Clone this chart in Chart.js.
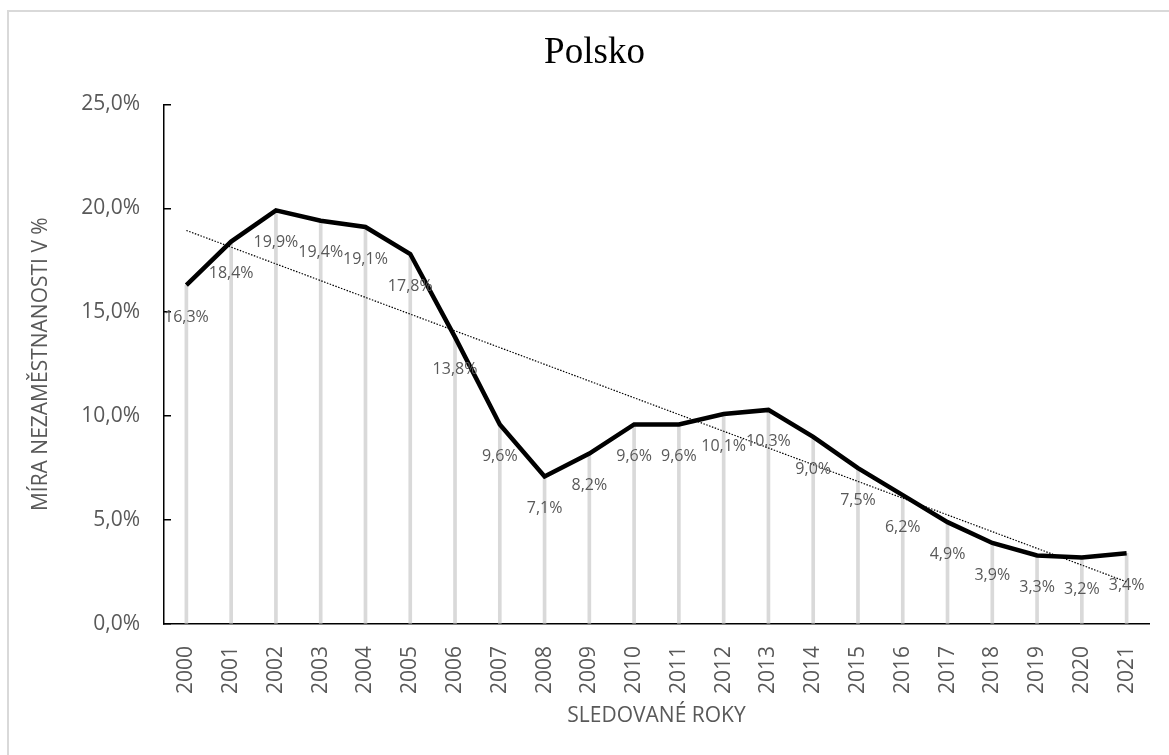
<!DOCTYPE html>
<html>
<head>
<meta charset="utf-8">
<script src="https://cdn.jsdelivr.net/npm/chart.js@4.4.0/dist/chart.umd.min.js"></script>
<style>
    body { margin: 0; background: #fff; }
    #wrap { position: relative; width: 1169px; height: 755px; overflow: hidden; }
    #frame { position: absolute; left: 7px; top: 10px; width: 1300px; height: 900px;
             border-left: 2px solid #d9d9d9; border-top: 2px solid #d9d9d9; }
    canvas { position: absolute; left: 0; top: 0; }
</style>
</head>
<body>
<div id="wrap">
    <div id="frame"></div>
    <canvas id="nezamChart" width="1169" height="755"></canvas>
</div>
<script>
const roky = ['2000', '2001', '2002', '2003', '2004', '2005', '2006', '2007', '2008', '2009', '2010',
    '2011', '2012', '2013', '2014', '2015', '2016', '2017', '2018', '2019', '2020', '2021'];
const miraNezam = [16.3, 18.4, 19.9, 19.4, 19.1, 17.8, 13.8, 9.6, 7.1, 8.2, 9.6,
    9.6, 10.1, 10.3, 9.0, 7.5, 6.2, 4.9, 3.9, 3.3, 3.2, 3.4];
const osaYTicks = [0, 5, 10, 15, 20, 25];

const sedaText = '#595959';
const fmt = v => v.toFixed(1).replace('.', ',') + '%';

// lineární trend (nejmenší čtverce) jako v Excelu
const n = miraNezam.length;
const mx = (n - 1) / 2;
const my = miraNezam.reduce((a, b) => a + b, 0) / n;
let sxy = 0, sxx = 0;
miraNezam.forEach((y, i) => { sxy += (i - mx) * (y - my); sxx += (i - mx) * (i - mx); });
const sklon = sxy / sxx;
const trend = miraNezam.map((_, i) => my + sklon * (i - mx));

// popisky hodnot pod body
const popisky = {
    id: 'popisky',
    afterDatasetsDraw(chart) {
        const meta = chart.getDatasetMeta(0);
        const ctx = chart.ctx;
        ctx.save();
        ctx.font = '16px "Open Sans"';
        ctx.fillStyle = sedaText;
        ctx.textAlign = 'center';
        ctx.textBaseline = 'middle';
        meta.data.forEach((pt, i) => {
            ctx.fillText(fmt(miraNezam[i]), pt.x, pt.y + 32);
        });
        ctx.restore();
    }
};

const ctx = document.getElementById('nezamChart').getContext('2d');
new Chart(ctx, {
    type: 'line',
    data: {
        labels: roky,
        datasets: [{
            label: 'Míra nezaměstnanosti',
            data: miraNezam,
            borderColor: '#000',
            borderWidth: 4.5,
            pointRadius: 0,
            tension: 0,
            order: 0
        }, {
            label: 'Trend',
            data: trend,
            borderColor: '#000',
            borderWidth: 1.2,
            borderDash: [1.5, 1.5],
            pointRadius: 0,
            order: 1
        }, {
            type: 'bar',
            label: 'Spojnice',
            data: miraNezam,
            backgroundColor: '#d9d9d9',
            barThickness: 3,
            order: 2
        }]
    },
    options: {
        responsive: false,
        animation: false,
        layout: { padding: { left: 40, right: 20, top: 0, bottom: 0 } },
        plugins: {
            legend: { display: false },
            tooltip: { enabled: false },
            title: {
                display: true,
                text: 'Polsko',
                color: '#000',
                font: { family: '"Liberation Serif", "Times New Roman", serif', size: 37, weight: 'normal' },
                padding: { top: 31, bottom: 29 }
            }
        },
        scales: {
            x: {
                offset: true,
                grid: { display: false },
                border: { display: true, color: '#000', width: 1.5 },
                ticks: {
                    color: sedaText,
                    font: { family: '"Open Sans"', size: 21 },
                    minRotation: 90,
                    maxRotation: 90,
                    padding: 14
                },
                title: {
                    display: true,
                    text: 'SLEDOVANÉ ROKY',
                    color: sedaText,
                    font: { family: '"Open Sans"', size: 21 },
                    padding: { top: 0, bottom: 26 }
                },
                afterFit(scale) { scale.height = 131; }
            },
            y: {
                min: 0,
                max: 25,
                afterBuildTicks(scale) { scale.ticks = osaYTicks.map(v => ({ value: v })); },
                grid: {
                    display: true,
                    drawOnChartArea: false,
                    drawTicks: true,
                    tickLength: -7,
                    color: '#000',
                    lineWidth: 1.5
                },
                border: { display: true, color: '#000', width: 1.5 },
                ticks: {
                    color: sedaText,
                    font: { family: '"Open Sans"', size: 21 },
                    padding: 31,
                    callback: v => fmt(v)
                },
                title: {
                    display: true,
                    text: 'MÍRA NEZAMĚSTNANOSTI V %',
                    color: sedaText,
                    font: { family: '"Open Sans"', size: 21 },
                    padding: { top: -12, bottom: 0 }
                },
                afterFit(scale) { scale.width = 124; }
            }
        }
    },
    plugins: [popisky]
});
</script>
</body>
</html>
